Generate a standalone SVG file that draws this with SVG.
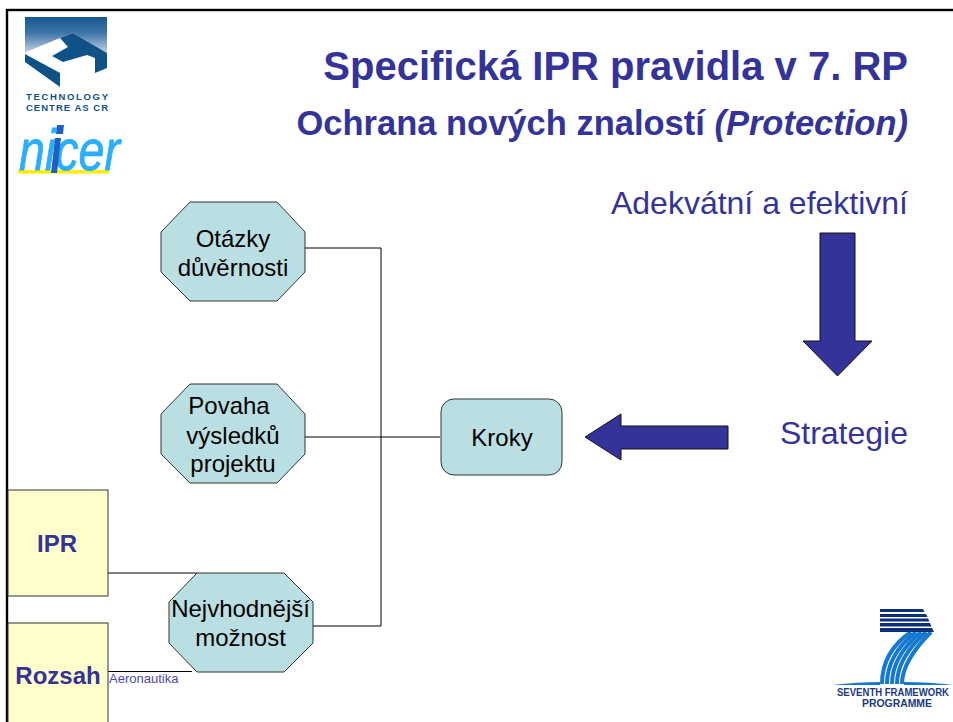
<svg xmlns="http://www.w3.org/2000/svg" width="953" height="722" viewBox="0 0 953 722">
<defs>
<linearGradient id="tcg" x1="0" y1="0" x2="0" y2="1"><stop offset="0" stop-color="#15568f"/><stop offset="0.45" stop-color="#3f76a8"/><stop offset="1" stop-color="#c4d2e4"/></linearGradient>
</defs>
<style>
text{font-family:"Liberation Sans",Arial,sans-serif}
.oct{fill:#b9dfe3;stroke:#333;stroke-width:1}
.note{fill:#ffffcc;stroke:#333;stroke-width:1}
.arr{fill:#333399;stroke:#111;stroke-width:1}
.lbl{font-size:24px;fill:#000;text-anchor:middle}
.hd{fill:#333399;text-anchor:end}
.con{fill:none;stroke:#000;stroke-width:1}
.blue{fill:#0f5288}
.tc{font-size:9.5px;font-weight:bold;fill:#0f5288}
.bar{fill:#0b2f78}
.arc{fill:none;stroke:#1479cf;stroke-width:4}
.fp{font-size:11px;font-weight:bold;fill:#1c3a80}
</style>
<rect width="953" height="722" fill="#fff"/>
<rect x="7" y="10" width="960" height="730" fill="none" stroke="#000" stroke-width="2.4"/>
<g id="logo-tc">
<polygon points="25,17 107,17 107,53 73,33 60,38 26,52 25,53" fill="url(#tcg)"/>
<polygon class="blue" points="73,33 107,53 107,68 95,73 95,58 87,55 63,62 52,56 68,47 60,38"/>
<polygon class="blue" points="25,54 60,73 60,87 25,62"/>
<text class="tc" x="26" y="100" textLength="82" lengthAdjust="spacing">TECHNOLOGY</text>
<text class="tc" x="26" y="110.500" textLength="82" lengthAdjust="spacing">CENTRE AS CR</text>
</g>
<g id="logo-nicer">
<rect x="18" y="170" width="91" height="3.500" fill="#ffee00"/>
<text x="19" y="170" font-size="58" font-style="italic" fill="#2aaeff" stroke="#2aaeff" stroke-width="0.8" textLength="101" lengthAdjust="spacingAndGlyphs">nicer</text>
<path d="M55 138H61L57 173H51Z M57 125H64L63 134H56Z" fill="#1f5fc0"/>
</g>
<g id="title">
<text class="hd" x="908" y="80" font-size="40" font-weight="bold">Specifická IPR pravidla v 7. RP</text>
<text class="hd" x="908" y="135" font-size="34.500" font-weight="bold">Ochrana nových znalostí <tspan font-style="italic">(Protection)</tspan></text>
</g>
<g id="connectors">
<path class="con" d="M305 248H381V626H313"/>
<path class="con" d="M305 437H440"/>
<path class="con" d="M108 573H197"/>
<path class="con" d="M108 671.500H192"/>
</g>
<g id="adekvatni"><text class="hd" x="908" y="214" font-size="32">Adekvátní a efektivní</text></g>
<g id="strategie"><text class="hd" x="908" y="444" font-size="32">Strategie</text></g>
<g id="arrow-down"><polygon class="arr" points="820,233 855,233 855,341 872,341 837.500,376 803,341 820,341"/></g>
<g id="arrow-left"><polygon class="arr" points="585,437 621,414 621,426 728,426 728,449 621,449 621,460"/></g>
<g id="otazky">
<polygon class="oct" points="190,202 277,202 305,232 305,272 277,301 190,301 161,272 161,232"/>
<text class="lbl" x="233" y="247">Otázky</text><text class="lbl" x="233" y="276">důvěrnosti</text>
</g>
<g id="povaha">
<polygon class="oct" points="190,384 277,384 305,414 305,454 277,483 190,483 161,454 161,414"/>
<text class="lbl" x="229" y="414">Povaha</text><text class="lbl" x="233" y="444">výsledků</text><text class="lbl" x="233" y="472">projektu</text>
</g>
<g id="nejvhodnejsi">
<polygon class="oct" points="197,573 284,573 313,602 313,643 284,672 197,672 169,643 169,602"/>
<text class="lbl" x="240.500" y="617">Nejvhodnější</text><text class="lbl" x="240.500" y="646">možnost</text>
</g>
<g id="kroky">
<rect x="441" y="399" width="121" height="76" rx="13" class="oct"/>
<text class="lbl" x="502" y="446">Kroky</text>
</g>
<g id="ipr">
<rect class="note" x="8" y="490" width="100" height="106"/>
<text x="57" y="552" font-size="24" font-weight="bold" fill="#333399" text-anchor="middle">IPR</text>
</g>
<g id="rozsah">
<rect class="note" x="8" y="623" width="100" height="110"/>
<text x="58" y="684" font-size="24" font-weight="bold" fill="#333399" text-anchor="middle">Rozsah</text>
</g>
<g id="aeronautika"><text x="109" y="683" font-size="13" fill="#4a4ab8">Aeronautika</text></g>
<g id="logo-fp7">
<path class="arc" d="M882 684C882 662 892 645 911 632"/>
<path class="arc" d="M887 684C887 663 898 646 916 632"/>
<path class="arc" d="M892 684C892 664 903 647 921 632"/>
<path class="arc" d="M897 684C897 665 908 648 926 632"/>
<path class="arc" d="M902 684C902 667 913 650 931 632"/>
<polygon class="bar" points="880,609 923,609 924.500,612 880,612"/>
<polygon class="bar" points="880,614 926,614 927.500,617 880,617"/>
<polygon class="bar" points="880,618.500 928,618.500 929.500,621.500 880,621.500"/>
<polygon class="bar" points="880,623 930,623 931.500,626.500 880,626.500"/>
<polygon class="bar" points="880,628 932,628 934,632 880,632"/>
<path d="M832 685Q858 682 880 682V685ZM904 682Q930 682 953 685H904Z" fill="#1479cf"/>
<text class="fp" x="837" y="696" textLength="112" lengthAdjust="spacingAndGlyphs">SEVENTH FRAMEWORK</text>
<text class="fp" x="862" y="707" textLength="70" lengthAdjust="spacingAndGlyphs">PROGRAMME</text>
</g>
</svg>
